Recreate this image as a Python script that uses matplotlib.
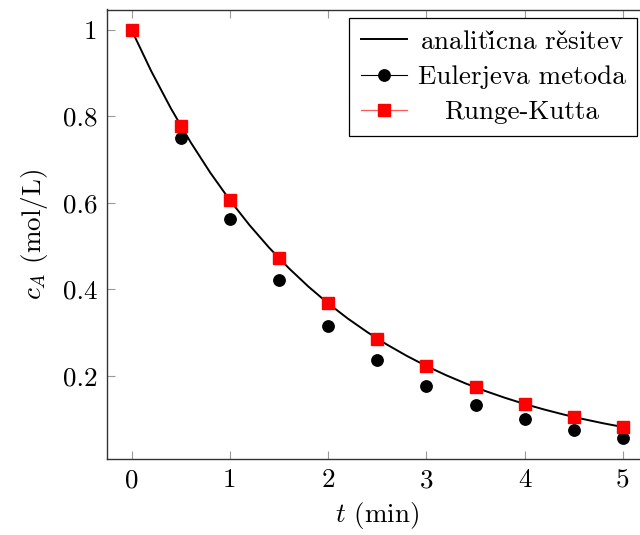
import matplotlib
matplotlib.use("Agg")
import matplotlib.pyplot as plt
from matplotlib.lines import Line2D
from matplotlib.offsetbox import TextArea
from matplotlib.transforms import Bbox

plt.rcParams["font.family"] = ["cmr10", "DejaVu Serif"]
plt.rcParams["mathtext.fontset"] = "cm"
plt.rcParams["axes.formatter.use_mathtext"] = True

# analytic solution c_A(t), sampled every 0.2 min
t_exact = [0.0, 0.2, 0.4, 0.6, 0.8, 1.0, 1.2, 1.4, 1.6, 1.8, 2.0, 2.2, 2.4,
           2.6, 2.8, 3.0, 3.2, 3.4, 3.6, 3.8, 4.0, 4.2, 4.4, 4.6, 4.8, 5.0]
c_exact = [1.0, 0.9048, 0.8187, 0.7408, 0.6703, 0.6065, 0.5488, 0.4966,
           0.4493, 0.4066, 0.3679, 0.3329, 0.3012, 0.2725, 0.2466, 0.2231,
           0.2019, 0.1827, 0.1653, 0.1496, 0.1353, 0.1225, 0.1108, 0.1003,
           0.0907, 0.0821]

# numerical solutions, step 0.5 min
t_num = [0.0, 0.5, 1.0, 1.5, 2.0, 2.5, 3.0, 3.5, 4.0, 4.5, 5.0]
c_euler = [1.0, 0.75, 0.5625, 0.4219, 0.3164, 0.2373, 0.1780, 0.1335,
           0.1001, 0.0751, 0.0563]
c_rk = [1.0, 0.7788, 0.6065, 0.4724, 0.3679, 0.2865, 0.2231, 0.1738,
        0.1353, 0.1054, 0.0821]

xticks = [0, 1, 2, 3, 4, 5]
yticks = [0.2, 0.4, 0.6, 0.8, 1.0]
yticklabels = ["0.2", "0.4", "0.6", "0.8", "1"]
labels = [r"analiti$\mathrm{\check{c}}$na re$\mathrm{\check{s}}$itev",
          "Eulerjeva metoda", "Runge-Kutta"]

FS = 19.5

fig = plt.figure(figsize=(6.4, 5.35), dpi=100)
ax = fig.add_axes([107 / 640, 1 - 458.6 / 535, 540.5 / 640, 449.1 / 535])

ax.plot(t_exact, c_exact, color="black", lw=1.4, zorder=2)
ax.plot(t_num, c_euler, ls="none", marker="o", ms=8.2, color="black", zorder=3)
ax.plot(t_num, c_rk, ls="none", marker="s", ms=8.2, color="red",
        mec="red", zorder=4)

ax.set_xlim(-0.25, 5.25)
ax.set_ylim(0.0091, 1.0472)
ax.set_xticks(xticks)
ax.set_xticklabels([str(v) for v in xticks])
ax.set_yticks(yticks)
ax.set_yticklabels(yticklabels)

ax.tick_params(direction="in", length=6, width=0.8, color="#999999",
               top=True, right=True, labelsize=FS)
ax.tick_params(axis="x", pad=7)
ax.tick_params(axis="y", pad=7)
for s in ax.spines.values():
    s.set_linewidth(1.0)
    s.set_color("#333333")

ax.set_xlabel(r"$t$ (min)", fontsize=FS, labelpad=6)
ax.set_ylabel(r"$c_A$ (mol/L)", fontsize=FS, labelpad=9)

handles = [
    Line2D([], [], color="black", lw=1.4),
    Line2D([], [], color="black", lw=0.8, marker="o", ms=8.2),
    Line2D([], [], color="#ff5a5a", lw=0.9, marker="s", ms=8.2,
           mfc="red", mec="red"),
]
leg = ax.legend(handles, labels, loc="upper right", bbox_to_anchor=(0.98, 0.98),
                borderaxespad=0, fancybox=False, edgecolor="black",
                framealpha=1, fontsize=FS, handlelength=1.7,
                handletextpad=0.4, borderpad=0.42, labelspacing=0.42)
leg.get_frame().set_linewidth(0.9)

# centre each legend label within the widest label's width
text_areas = []
def _collect(box):
    for ch in box.get_children():
        if isinstance(ch, TextArea):
            text_areas.append(ch)
        elif hasattr(ch, "get_children"):
            _collect(ch)
_collect(leg._legend_handle_box)
_orig_bbox = {id(ta): ta.get_bbox for ta in text_areas}

def _make_centered(ta):
    def get_bbox(renderer):
        widths = [_orig_bbox[id(t)](renderer).width for t in text_areas]
        W = max(widths)
        bb = _orig_bbox[id(ta)](renderer)
        extra = (W - bb.width) / 2
        return Bbox.from_bounds(bb.x0 - extra, bb.y0, W, bb.height)
    return get_bbox

for ta in text_areas:
    ta.get_bbox = _make_centered(ta)

fig.savefig("out.png", dpi=100)
